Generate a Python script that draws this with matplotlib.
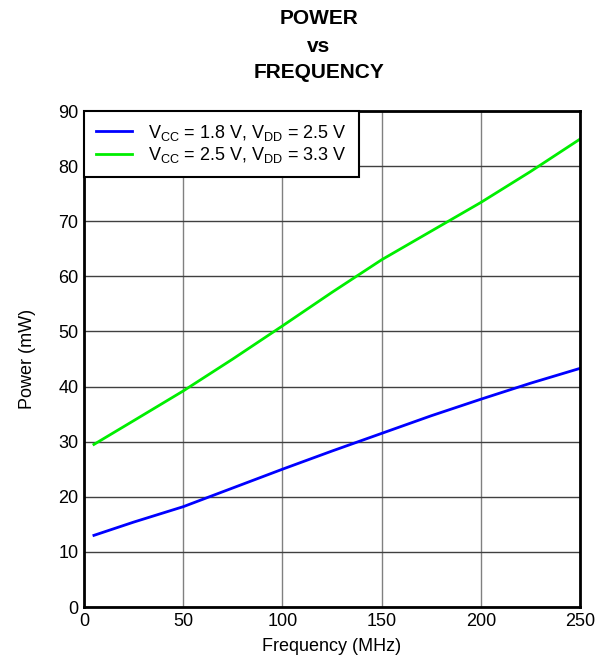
import matplotlib
matplotlib.use("Agg")
import matplotlib.pyplot as plt

plt.rcParams['font.family'] = ['Liberation Sans', 'DejaVu Sans']
plt.rcParams['mathtext.fontset'] = 'custom'
plt.rcParams['mathtext.rm'] = 'Liberation Sans'
plt.rcParams['mathtext.it'] = 'Liberation Sans'

# data
freq = [5, 25, 50, 75, 100, 125, 150, 175, 200, 225, 250]
power_18 = [13.0, 15.4, 18.2, 21.6, 25.0, 28.3, 31.5, 34.7, 37.7, 40.6, 43.3]
power_25 = [29.5, 33.8, 39.2, 45.0, 51.0, 57.1, 63.0, 68.2, 73.4, 79.0, 84.9]
labels = [r'V$_{\mathrm{CC}}$ = 1.8 V, V$_{\mathrm{DD}}$ = 2.5 V',
          r'V$_{\mathrm{CC}}$ = 2.5 V, V$_{\mathrm{DD}}$ = 3.3 V']

fig = plt.figure(figsize=(6.1, 6.55), dpi=100)
ax = fig.add_axes([84/610, 1-607/655, 496/610, 496/655])

ax.plot(freq, power_18, color='#0000ff', lw=2, label=labels[0])
ax.plot(freq, power_25, color='#00ee00', lw=2, label=labels[1])

ax.set_xlim(0, 250)
ax.set_ylim(0, 90)
ax.set_xticks(range(0, 251, 50))
ax.set_yticks(range(0, 91, 10))
ax.xaxis.grid(True, color='#808080', lw=1)
ax.yaxis.grid(True, color='#404040', lw=1)
ax.set_axisbelow(True)
for s in ax.spines.values():
    s.set_linewidth(2)
ax.tick_params(length=0, labelsize=13, pad=4)

ax.set_xlabel('Frequency (MHz)', fontsize=13, labelpad=6)
ax.set_ylabel('Power (mW)', fontsize=13, labelpad=16)

tx = 319/610
fig.text(tx, 1-18/655, 'POWER', ha='center', va='center', fontsize=15, fontweight='bold')
fig.text(tx, 1-46/655, 'vs', ha='center', va='center', fontsize=15, fontweight='bold')
fig.text(tx, 1-73/655, 'FREQUENCY', ha='center', va='center', fontsize=15, fontweight='bold')

leg = ax.legend(loc='upper left', fontsize=13, frameon=True, fancybox=False,
                borderaxespad=0, handlelength=2, handletextpad=0.9, labelspacing=0.15,
                borderpad=0.65)
leg.get_frame().set_edgecolor('black')
leg.get_frame().set_linewidth(1.5)
leg.get_frame().set_alpha(1)

fig.savefig('out.png', dpi=100)
